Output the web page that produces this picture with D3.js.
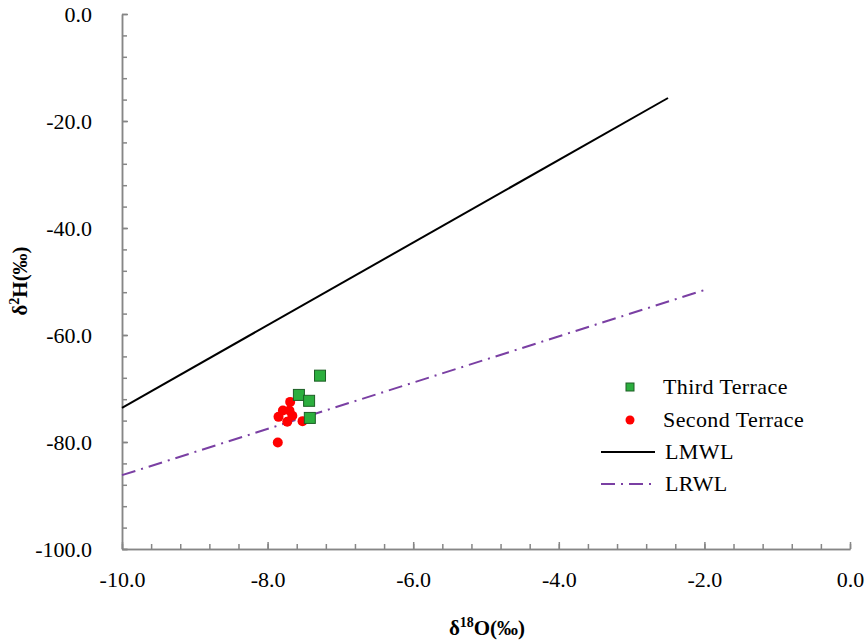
<!DOCTYPE html>
<html>
<head>
<meta charset="utf-8">
<script src="https://cdn.jsdelivr.net/npm/d3@7"></script>
</head>
<body style="margin:0;background:#fff">
<div id="chart"></div>
<script>
// tick values
var xTicks = [-10, -8, -6, -4, -2, 0];
var yTicks = [0, -20, -40, -60, -80, -100];

// Third Terrace samples (d18O, d2H)
var thirdX = [-7.28, -7.57, -7.43, -7.42];
var thirdY = [-67.6, -71.2, -72.3, -75.5];

// Second Terrace samples
var secondX = [-7.69, -7.79, -7.70, -7.85, -7.66, -7.73, -7.52, -7.86];
var secondY = [-72.5, -74.1, -74.1, -75.3, -75.1, -76.2, -76.1, -80.1];

// water lines, end points
var lmwlX = [-10, -2.5];
var lmwlY = [-73.6, -15.7];
var lrwlX = [-10, -2.0];
var lrwlY = [-86.2, -51.6];

var legendNames = ["Third Terrace", "Second Terrace", "LMWL", "LRWL"];

var serif = "'Liberation Serif'";
var axisColor = "#868686";
var purple = "#7a3fa3";

var width = 866, height = 640;
var svg = d3.select("#chart").append("svg")
  .attr("width", width)
  .attr("height", height);

var xScale = d3.scaleLinear().domain([-10, 0]).range([122, 850]);
var yScale = d3.scaleLinear().domain([-100, 0]).range([549, 14]);

var fmt = function(d) { return d.toFixed(1); };

function styleAxis(g) {
  g.attr("font-family", null);
  g.selectAll("path, line").style("stroke", axisColor).style("stroke-width", 1.5);
  g.selectAll("text")
    .style("font-family", serif)
    .style("font-size", "22px")
    .style("fill", "#000");
}

// minor ticks
svg.append("g")
  .attr("transform", "translate(" + xScale(-10) + ",0)")
  .call(d3.axisLeft(yScale).tickValues(d3.range(-100, 1, 4)).tickSize(-5).tickSizeOuter(0).tickFormat(""))
  .call(styleAxis);

svg.append("g")
  .attr("transform", "translate(0," + yScale(-100) + ")")
  .call(d3.axisBottom(xScale).tickValues(d3.range(-10, 0.01, 0.4)).tickSize(-5).tickSizeOuter(0).tickFormat(""))
  .call(styleAxis);

// major ticks + labels
svg.append("g")
  .attr("transform", "translate(" + xScale(-10) + ",0)")
  .call(d3.axisLeft(yScale).tickValues(yTicks).tickSize(-6).tickSizeOuter(0).tickPadding(30).tickFormat(fmt))
  .call(styleAxis);

svg.append("g")
  .attr("transform", "translate(0," + yScale(-100) + ")")
  .call(d3.axisBottom(xScale).tickValues(xTicks).tickSize(-7).tickSizeOuter(0).tickPadding(22).tickFormat(fmt))
  .call(styleAxis);

// axis titles
var yTitle = svg.append("text")
  .attr("transform", "translate(27,281) rotate(-90)")
  .attr("text-anchor", "middle")
  .style("font-family", serif)
  .style("font-size", "21px")
  .style("font-weight", "bold");
yTitle.append("tspan").text("δ");
yTitle.append("tspan").style("font-size", "14px").attr("dy", -8).text("2");
yTitle.append("tspan").attr("dy", 8).text("H(‰)");

var xTitle = svg.append("text")
  .attr("x", 487)
  .attr("y", 635)
  .attr("text-anchor", "middle")
  .style("font-family", serif)
  .style("font-size", "21px")
  .style("font-weight", "bold");
xTitle.append("tspan").text("δ");
xTitle.append("tspan").style("font-size", "14px").attr("dy", -8).text("18");
xTitle.append("tspan").attr("dy", 8).text("O(‰)");

// lines
var line = d3.line()
  .x(function(d) { return xScale(d[0]); })
  .y(function(d) { return yScale(d[1]); });

svg.append("path")
  .datum(d3.zip(lmwlX, lmwlY))
  .attr("d", line)
  .attr("fill", "none")
  .attr("stroke", "#000")
  .attr("stroke-width", 2);

svg.append("path")
  .datum(d3.zip(lrwlX, lrwlY))
  .attr("d", line)
  .attr("fill", "none")
  .attr("stroke", purple)
  .attr("stroke-width", 2)
  .attr("stroke-dasharray", "14,6,2,6");

// points
svg.selectAll("circle.second")
  .data(d3.zip(secondX, secondY))
  .enter()
  .append("circle")
  .attr("class", "second")
  .attr("cx", function(d) { return xScale(d[0]); })
  .attr("cy", function(d) { return yScale(d[1]); })
  .attr("r", 5)
  .attr("fill", "#f00");

var sq = 11;
svg.selectAll("rect.third")
  .data(d3.zip(thirdX, thirdY))
  .enter()
  .append("rect")
  .attr("class", "third")
  .attr("x", function(d) { return xScale(d[0]) - sq / 2; })
  .attr("y", function(d) { return yScale(d[1]) - sq / 2; })
  .attr("width", sq)
  .attr("height", sq)
  .attr("fill", "#2cae3e")
  .attr("stroke", "#1d5e25")
  .attr("stroke-width", 1);

// legend
var legend = svg.append("g").attr("class", "legend");
var rowY = [387, 420, 452, 484];

legend.append("rect")
  .attr("x", 626).attr("y", rowY[0] - 4)
  .attr("width", 8).attr("height", 8)
  .attr("fill", "#2cae3e").attr("stroke", "#1d5e25");
legend.append("circle")
  .attr("cx", 630).attr("cy", rowY[1]).attr("r", 4.5)
  .attr("fill", "#f00");
legend.append("line")
  .attr("x1", 601).attr("x2", 655).attr("y1", rowY[2]).attr("y2", rowY[2])
  .attr("stroke", "#000").attr("stroke-width", 2);
legend.append("line")
  .attr("x1", 601).attr("x2", 657).attr("y1", rowY[3]).attr("y2", rowY[3])
  .attr("stroke", purple).attr("stroke-width", 2)
  .attr("stroke-dasharray", "14,6,2,6");

legend.selectAll("text")
  .data(legendNames)
  .enter()
  .append("text")
  .attr("x", function(d, i) { return i < 2 ? 663 : 665; })
  .attr("y", function(d, i) { return rowY[i] + 7; })
  .style("font-family", serif)
  .style("font-size", "22px")
  .style("letter-spacing", "0.4px")
  .text(function(d) { return d; });
</script>
</body>
</html>
